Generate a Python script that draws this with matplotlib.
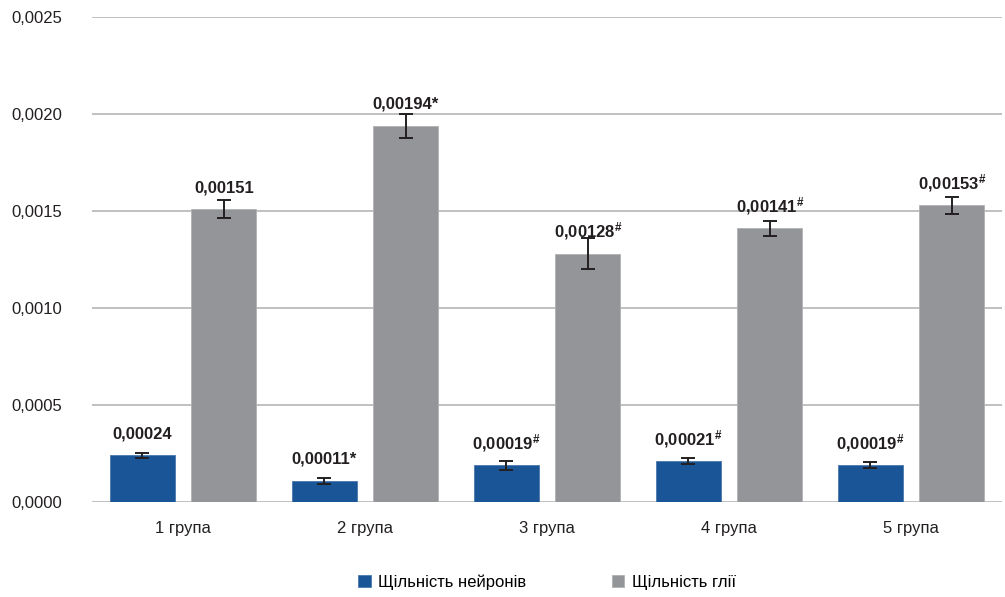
import matplotlib
matplotlib.use('Agg')
import matplotlib.pyplot as plt
import numpy as np

# data
groups = ['1 група', '2 група', '3 група', '4 група', '5 група']
neurons = [0.00024, 0.00011, 0.00019, 0.00021, 0.00019]
neurons_err = [0.000015, 0.000015, 0.000023, 0.000015, 0.000015]
neurons_labels = ['0,00024', '0,00011*', '0,00019${}^{\\#}$', '0,00021${}^{\\#}$', '0,00019${}^{\\#}$']
glia = [0.00151, 0.00194, 0.00128, 0.00141, 0.00153]
glia_err = [0.000046, 0.000062, 0.00008, 0.000039, 0.000044]
glia_labels = ['0,00151', '0,00194*', '0,00128${}^{\\#}$', '0,00141${}^{\\#}$', '0,00153${}^{\\#}$']
yticks = [0.0, 0.0005, 0.0010, 0.0015, 0.0020, 0.0025]

BLUE = '#1a5597'
GRAY = '#939598'

plt.rcParams['font.family'] = ['Liberation Sans', 'DejaVu Sans']
plt.rcParams['mathtext.fontset'] = 'custom'
plt.rcParams['mathtext.rm'] = 'Liberation Sans:bold'
plt.rcParams['mathtext.default'] = 'rm'

fig = plt.figure(figsize=(10.05, 5.97), dpi=100)
ax = fig.add_axes([92 / 1005, 1 - 502 / 597, 910 / 1005, 485 / 597])

x = np.arange(len(groups))
w = 0.357
off = 0.224

b1 = ax.bar(x - off, neurons, w, color=BLUE, edgecolor='#4a78ad', linewidth=0.6,
            yerr=neurons_err, error_kw=dict(ecolor='#231f20', elinewidth=1.4, capsize=5, capthick=1.4),
            label='Щільність нейронів', zorder=3)
b2 = ax.bar(x + off, glia, w, color=GRAY, edgecolor='#b0b2b4', linewidth=0.6,
            yerr=glia_err, error_kw=dict(ecolor='#231f20', elinewidth=1.4, capsize=5, capthick=1.4),
            label='Щільність глії', zorder=3)

for bars, labels in ((b1, neurons_labels), (b2, glia_labels)):
    for rect, lab in zip(bars, labels):
        ax.annotate(lab, (rect.get_x() + rect.get_width() / 2, rect.get_height()),
                    xytext=(0, 12), textcoords='offset points', ha='center', va='baseline',
                    fontsize=12, fontweight='bold', color='#231f20')

ax.set_xlim(-0.5, len(groups) - 0.5)
ax.set_ylim(0, 0.0025)
ax.set_yticks(yticks)
ax.set_yticklabels([('%.4f' % v).replace('.', ',') for v in yticks])
ax.set_xticks(x)
ax.set_xticklabels(groups)
ax.tick_params(axis='both', length=0, labelsize=12, labelcolor='#231f20')
ax.tick_params(axis='x', pad=13.5)
for lab in ax.get_yticklabels():
    lab.set_horizontalalignment('left')
ax.tick_params(axis='y', pad=58)

ax.yaxis.grid(True, color='#b5b5b5', linewidth=1.2)
ax.set_axisbelow(True)
for s in ax.spines.values():
    s.set_visible(False)

fig.legend(handles=[b1, b2], loc='center', bbox_to_anchor=(547 / 1005, 1 - 582 / 597), ncol=2,
           frameon=False, fontsize=12, handlelength=0.76, handleheight=0.76,
           columnspacing=5.1, handletextpad=0.45)

fig.savefig('out.png', dpi=100)
